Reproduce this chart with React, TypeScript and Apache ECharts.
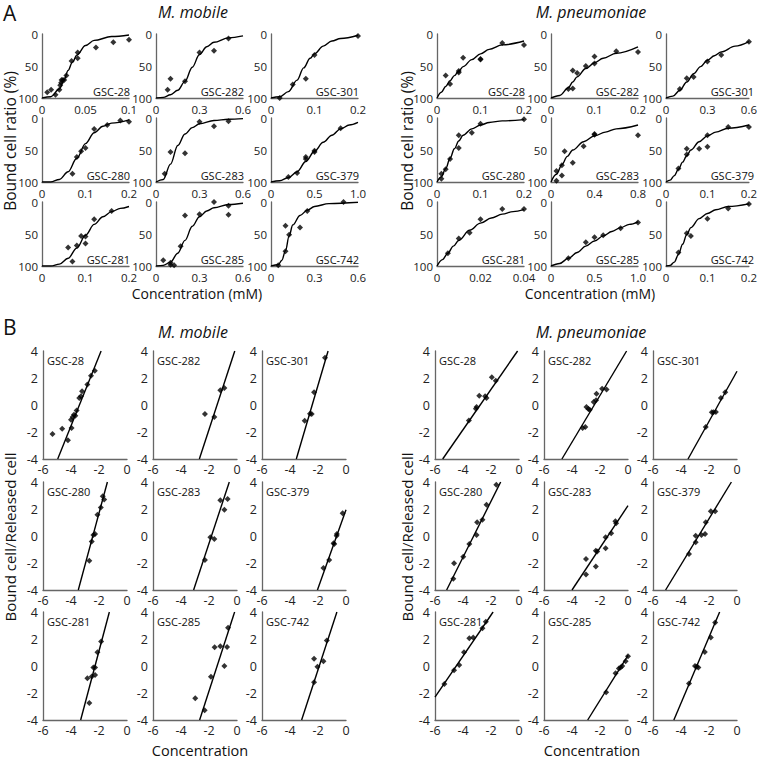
import React, { useEffect, useRef } from "react";
import * as echarts from "echarts";

const FONT = '"Open Sans", "Noto Sans", "DejaVu Sans", sans-serif';

// ---------- names ----------
const strains = ["GSC-28", "GSC-282", "GSC-301", "GSC-280", "GSC-283", "GSC-379", "GSC-281", "GSC-285", "GSC-742"];

// ---------- Panel A: x-axis ranges ----------
const aMobXMax = [0.1, 0.6, 0.2, 0.2, 0.6, 1.0, 0.2, 0.6, 0.6];
const aMobXStep = [0.05, 0.3, 0.1, 0.1, 0.3, 0.5, 0.1, 0.3, 0.3];
const aPnXMax = [0.2, 0.2, 0.6, 0.2, 0.8, 0.2, 0.04, 1.0, 0.2];
const aPnXStep = [0.1, 0.1, 0.3, 0.1, 0.4, 0.1, 0.02, 0.5, 0.1];

const aMob28Pts = [[0.006, 91], [0.0105, 87], [0.0155, 95], [0.02, 87], [0.021, 80], [0.022, 76], [0.0225, 72], [0.024, 72], [0.0255, 72], [0.028, 65], [0.034, 42], [0.041, 38], [0.041, 29], [0.062, 21], [0.082, 13], [0.1, 9]];
const aMob28Fit = [[0, 100], [0.01, 98], [0.02, 86], [0.025, 73], [0.03, 57], [0.035, 44], [0.04, 33], [0.05, 18], [0.06, 10], [0.08, 4], [0.1, 1.5]];
const aMob282Pts = [[0.08, 87], [0.1, 70], [0.2, 74], [0.3, 29], [0.4, 26], [0.5, 7]];
const aMob282Fit = [[0, 100], [0.05, 99], [0.1, 95], [0.15, 88], [0.2, 74], [0.25, 52], [0.3, 32], [0.35, 20], [0.4, 13], [0.5, 6], [0.6, 3]];
const aMob301Pts = [[0.02, 100], [0.05, 79], [0.08, 70], [0.1, 33], [0.2, 3]];
const aMob301Fit = [[0, 100], [0.02, 98], [0.04, 90], [0.06, 72], [0.075, 53], [0.09, 38], [0.1, 31], [0.12, 19], [0.14, 11], [0.16, 7], [0.2, 2]];
const aMob280Pts = [[0.07, 87], [0.08, 61], [0.09, 52], [0.1, 47], [0.12, 17], [0.15, 11], [0.18, 4], [0.2, 6]];
const aMob280Fit = [[0, 100], [0.02, 100], [0.04, 96], [0.06, 84], [0.08, 63], [0.1, 40], [0.12, 23], [0.14, 13], [0.16, 8], [0.2, 3]];
const aMob283Pts = [[0.06, 87], [0.1, 53], [0.2, 55], [0.3, 6], [0.4, 13], [0.5, 5]];
const aMob283Fit = [[0, 100], [0.05, 96], [0.1, 72], [0.15, 43], [0.2, 25], [0.25, 15], [0.3, 9], [0.4, 4], [0.5, 2], [0.6, 1]];
const aMob379Pts = [[0.2, 92], [0.3, 86], [0.4, 64], [0.4, 61], [0.5, 51], [0.5, 53], [0.8, 16]];
const aMob379Fit = [[0, 100], [0.1, 98], [0.2, 93], [0.3, 84], [0.4, 68], [0.5, 52], [0.6, 38], [0.7, 27], [0.8, 17], [0.9, 11], [1.0, 7]];
const aMob281Pts = [[0.06, 71], [0.07, 93], [0.08, 68], [0.09, 53], [0.1, 54], [0.1, 65], [0.12, 27], [0.16, 14]];
const aMob281Fit = [[0, 100], [0.02, 100], [0.04, 97], [0.06, 88], [0.08, 72], [0.1, 52], [0.12, 35], [0.14, 23], [0.16, 15], [0.18, 10], [0.2, 7]];
const aMob285Pts = [[0.05, 91], [0.1, 95], [0.1, 98], [0.125, 99], [0.17, 69], [0.2, 21], [0.3, 19], [0.4, 0], [0.5, 6], [0.5, 20]];
const aMob285Fit = [[0, 100], [0.05, 99], [0.1, 94], [0.15, 80], [0.2, 60], [0.25, 38], [0.3, 23], [0.35, 14], [0.4, 9], [0.5, 4], [0.6, 2]];
const aMob742Pts = [[0.05, 99], [0.1, 37], [0.1, 77], [0.125, 51], [0.2, 40], [0.25, 14], [0.5, 0]];
const aMob742Fit = [[0, 100], [0.05, 98], [0.075, 91], [0.1, 76], [0.125, 53], [0.15, 36], [0.2, 21], [0.25, 13], [0.3, 7], [0.4, 2.5], [0.6, 0.5]];

// ---------- Panel A, M. pneumoniae ----------
const aPn28Pts = [[0.02, 65], [0.03, 78], [0.05, 60], [0.05, 58], [0.06, 37], [0.1, 39], [0.1, 40], [0.15, 14], [0.2, 17]];
const aPn28Fit = [[0, 100], [0.01, 91], [0.02, 82], [0.03, 73], [0.04, 65], [0.05, 58], [0.06, 51], [0.08, 40], [0.1, 31], [0.12, 24], [0.15, 17], [0.2, 11]];
const aPn282Pts = [[0.04, 86], [0.05, 85], [0.05, 57], [0.06, 61], [0.08, 50], [0.1, 35], [0.1, 46], [0.15, 27], [0.2, 28]];
const aPn282Fit = [[0, 100], [0.02, 96], [0.04, 84], [0.05, 75], [0.06, 67], [0.08, 54], [0.1, 45], [0.12, 38], [0.15, 30], [0.2, 20]];
const aPn301Pts = [[0.1, 86], [0.15, 69], [0.2, 67], [0.3, 43], [0.4, 33], [0.6, 12]];
const aPn301Fit = [[0, 100], [0.05, 97], [0.1, 88], [0.15, 75], [0.2, 62], [0.25, 51], [0.3, 41], [0.35, 34], [0.4, 28], [0.5, 19], [0.6, 12]];
const aPn280Pts = [[0.01, 95], [0.01, 87], [0.02, 80], [0.03, 64], [0.05, 27], [0.05, 47], [0.08, 23], [0.1, 9], [0.2, 2]];
const aPn280Fit = [[0, 100], [0.01, 92], [0.02, 79], [0.03, 63], [0.04, 48], [0.05, 36], [0.06, 27], [0.08, 17], [0.1, 11], [0.12, 7], [0.15, 4.5], [0.2, 2.5]];
const aPn283Pts = [[0.05, 98], [0.05, 83], [0.1, 90], [0.1, 74], [0.125, 52], [0.2, 70], [0.3, 44], [0.4, 26], [0.4, 25], [0.8, 27]];
const aPn283Fit = [[0, 100], [0.05, 88], [0.1, 73], [0.15, 60], [0.2, 50], [0.3, 37], [0.4, 28], [0.5, 22], [0.6, 17], [0.8, 11]];
const aPn379Pts = [[0.03, 79], [0.05, 48], [0.05, 57], [0.08, 48], [0.1, 27], [0.1, 45], [0.15, 14], [0.2, 14]];
const aPn379Fit = [[0, 100], [0.01, 97], [0.02, 90], [0.03, 80], [0.04, 69], [0.05, 59], [0.06, 50], [0.08, 37], [0.1, 28], [0.12, 22], [0.15, 16], [0.2, 11]];
const aPn281Pts = [[0.005, 80], [0.01, 57], [0.015, 48], [0.02, 27], [0.03, 11], [0.04, 11]];
const aPn281Fit = [[0, 100], [0.0025, 90], [0.005, 80], [0.0075, 69], [0.01, 60], [0.015, 44], [0.02, 33], [0.025, 25], [0.03, 19], [0.035, 15], [0.04, 12]];
const aPn285Pts = [[0.2, 88], [0.4, 63], [0.5, 55], [0.6, 52], [0.8, 41], [1.0, 32]];
const aPn285Fit = [[0, 100], [0.1, 96], [0.2, 88], [0.3, 79], [0.4, 69], [0.5, 61], [0.6, 53], [0.7, 46], [0.8, 40], [0.9, 35], [1.0, 31]];
const aPn742Pts = [[0.03, 79], [0.05, 49], [0.06, 53], [0.1, 26], [0.15, 10], [0.2, 3]];
const aPn742Fit = [[0, 100], [0.01, 99], [0.02, 94], [0.03, 82], [0.04, 66], [0.05, 51], [0.06, 40], [0.08, 26], [0.1, 18], [0.12, 12], [0.15, 7], [0.2, 3]];

// ---------- Panel B, M. mobile: points and regression line end points ----------
const bMob28Pts = [[-5.32, -2.15], [-4.63, -1.75], [-4.22, -2.62], [-3.96, -1.7], [-4.0, -1.09], [-3.88, -0.89], [-3.79, -0.72], [-3.69, -0.79], [-3.6, -0.4], [-3.41, 0.52], [-3.29, 0.64], [-3.21, 1.01], [-2.83, 1.51], [-2.57, 2.17], [-2.3, 2.54]];
const bMob28Line = [[-4.95, -4], [-1.85, 4]];
const bMob282Pts = [[-2.29, -0.67], [-1.62, -0.89], [-1.19, 1.09], [-0.9, 1.26]];
const bMob282Line = [[-2.69, -4], [-0.16, 4]];
const bMob301Pts = [[-2.95, -1.16], [-2.57, -0.64], [-2.45, -0.67], [-2.28, 0.94], [-1.5, 3.5]];
const bMob301Line = [[-3.55, -4], [-1.28, 4]];
const bMob280Pts = [[-2.69, -1.83], [-2.52, -0.4], [-2.4, 0.07], [-2.28, 0.15], [-2.11, 1.58], [-1.87, 2.12], [-1.73, 2.95], [-1.63, 2.7]];
const bMob280Line = [[-3.48, -4], [-1.4, 4]];
const bMob283Pts = [[-2.29, -1.78], [-1.9, -0.1], [-1.62, -0.22], [-0.9, 1.95], [-1.19, 2.65], [-0.67, 2.75]];
const bMob283Line = [[-3.1, -4], [-0.55, 4]];
const bMob379Pts = [[-1.61, -2.37], [-1.2, -1.78], [-0.89, -0.54], [-0.84, -0.59], [-0.67, 0.02], [-0.65, 0.15], [-0.24, 1.68]];
const bMob379Line = [[-2.04, -4], [0, 1.95]];
const bMob281Pts = [[-2.83, -0.9], [-2.52, -0.78], [-2.4, -0.12], [-2.28, -0.12], [-2.28, -0.66], [-2.69, -2.74], [-2.11, 1.02], [-1.85, 1.82]];
const bMob281Line = [[-3.31, -4], [-1.26, 4]];
const bMob285Pts = [[-2.98, -2.38], [-2.31, -3.28], [-1.86, -0.8], [-1.6, 1.38], [-1.19, 1.46], [-0.71, 1.41], [-0.9, 0.0], [-0.64, 2.84]];
const bMob285Line = [[-2.67, -4], [-0.17, 4]];
const bMob742Pts = [[-2.28, 0.53], [-2.04, -0.05], [-2.28, -1.21], [-1.61, 0.36], [-1.37, 1.89]];
const bMob742Line = [[-3.17, -4], [-0.65, 4]];

// ---------- Panel B, M. pneumoniae ----------
const bPn28Pts = [[-3.58, -1.14], [-3.08, -0.27], [-3.03, -0.15], [-2.84, 0.69], [-2.42, 0.64], [-2.32, 0.52], [-1.94, 2.05], [-1.66, 1.8]];
const bPn28Line = [[-5.45, -4], [-0.1, 4]];
const bPn282Pts = [[-3.24, -1.7], [-3.05, -1.63], [-2.97, -0.15], [-2.83, -0.3], [-2.73, -0.35], [-2.45, 0.22], [-2.28, 0.35], [-2.25, 0.84], [-1.85, 1.21], [-1.53, 1.14]];
const bPn282Line = [[-4.72, -4], [-0.1, 4]];
const bPn301Pts = [[-2.23, -1.63], [-1.8, -0.54], [-1.68, -0.54], [-1.51, -0.52], [-1.15, 0.52], [-0.84, 0.94]];
const bPn301Line = [[-3.5, -4], [0, 2.5]];
const bPn280Pts = [[-4.69, -3.16], [-4.64, -2.02], [-3.98, -1.53], [-3.55, -0.59], [-3.03, 0.07], [-2.99, 1.01], [-2.61, 1.21], [-2.32, 2.32], [-1.62, 3.8]];
const bPn280Line = [[-5.17, -4], [-1.31, 4]];
const bPn283Pts = [[-3.0, -1.7], [-3.0, -2.86], [-2.3, -1.1], [-2.2, -1.15], [-2.3, -2.25], [-1.6, -0.1], [-1.6, -0.9], [-1.2, 0.2], [-0.9, 1.1], [-0.85, 0.95]];
const bPn283Line = [[-4.0, -4], [0, 2.25]];
const bPn379Pts = [[-3.43, -1.33], [-2.95, 0.02], [-2.95, -0.47], [-2.54, 0.07], [-2.28, 0.15], [-2.23, 1.01], [-1.87, 1.83], [-1.56, 1.83]];
const bPn379Line = [[-5.1, -4], [-0.4, 4]];
const bPn281Pts = [[-5.33, -1.33], [-4.64, -0.32], [-4.27, 0.07], [-3.93, 1.02], [-3.55, 2.06], [-3.27, 2.11], [-2.61, 2.79], [-2.37, 3.28]];
const bPn281Line = [[-6, -2.31], [-1.85, 4]];
const bPn285Pts = [[-1.56, -1.94], [-0.89, -0.53], [-0.65, -0.19], [-0.53, -0.12], [-0.41, 0.0], [-0.17, 0.36], [0, 0.73]];
const bPn285Line = [[-2.88, -4], [0, 0.78]];
const bPn742Pts = [[-3.43, -1.29], [-3.0, 0.0], [-2.88, -0.05], [-2.76, -0.12], [-2.3, 1.04], [-1.87, 2.11], [-1.56, 3.23]];
const bPn742Line = [[-4.51, -4], [-1.24, 4]];

const aMobPts = [aMob28Pts, aMob282Pts, aMob301Pts, aMob280Pts, aMob283Pts, aMob379Pts, aMob281Pts, aMob285Pts, aMob742Pts];
const aMobFit = [aMob28Fit, aMob282Fit, aMob301Fit, aMob280Fit, aMob283Fit, aMob379Fit, aMob281Fit, aMob285Fit, aMob742Fit];
const aPnPts = [aPn28Pts, aPn282Pts, aPn301Pts, aPn280Pts, aPn283Pts, aPn379Pts, aPn281Pts, aPn285Pts, aPn742Pts];
const aPnFit = [aPn28Fit, aPn282Fit, aPn301Fit, aPn280Fit, aPn283Fit, aPn379Fit, aPn281Fit, aPn285Fit, aPn742Fit];
const bMobPts = [bMob28Pts, bMob282Pts, bMob301Pts, bMob280Pts, bMob283Pts, bMob379Pts, bMob281Pts, bMob285Pts, bMob742Pts];
const bMobLine = [bMob28Line, bMob282Line, bMob301Line, bMob280Line, bMob283Line, bMob379Line, bMob281Line, bMob285Line, bMob742Line];
const bPnPts = [bPn28Pts, bPn282Pts, bPn301Pts, bPn280Pts, bPn283Pts, bPn379Pts, bPn281Pts, bPn285Pts, bPn742Pts];
const bPnLine = [bPn28Line, bPn282Line, bPn301Line, bPn280Line, bPn283Line, bPn379Line, bPn281Line, bPn285Line, bPn742Line];

// ---------- layout ----------
const A_COL_L = [42, 156, 271];
const A_COL_R = [437, 551, 666];
const A_ROW = [34, 118, 202];
const A_W = 87;
const A_H = 64;
const B_COL_L = [43, 153, 262];
const B_COL_R = [435, 544, 653];
const B_ROW = [351, 482, 612];
const B_W = 84;
const B_H = 108;

function fmtA(v: number) {
  if (v === 0) return "0";
  if (Math.abs(v - 1) < 1e-9) return "1.0";
  return String(parseFloat(v.toFixed(4)));
}

function txt(x: number, y: number, text: string, size: number, o: any = {}) {
  return {
    type: "text",
    x,
    y,
    rotation: o.rot || 0,
    silent: true,
    style: {
      text,
      x: 0,
      y: 0,
      fontSize: size,
      fontFamily: FONT,
      fontStyle: o.italic ? "italic" : "normal",
      fill: "#111",
      align: o.align || "center",
      textAlign: o.align || "center",
      verticalAlign: "middle",
      textVerticalAlign: "middle",
    },
  };
}

function buildOption() {
  const grid: any[] = [];
  const xAxis: any[] = [];
  const yAxis: any[] = [];
  const series: any[] = [];
  const graphic: any[] = [];
  const axisLine = { show: true, onZero: false, lineStyle: { color: "#666", width: 1.3 } };
  let idx = 0;

  const addA = (left: number, top: number, xmax: number, step: number, pts: number[][], fit: number[][], name: string) => {
    grid.push({ left, top, width: A_W, height: A_H });
    xAxis.push({
      type: "value", gridIndex: idx, min: 0, max: xmax, interval: step,
      axisLine, axisTick: { show: false }, splitLine: { show: false },
      axisLabel: { fontSize: 11.5, color: "#222", fontFamily: FONT, margin: 5, formatter: fmtA },
    });
    yAxis.push({
      type: "value", gridIndex: idx, min: 0, max: 100, interval: 50, inverse: true,
      axisLine, axisTick: { show: false }, splitLine: { show: false },
      axisLabel: { fontSize: 11.5, color: "#222", fontFamily: FONT, margin: 4 },
    });
    series.push({
      type: "line", xAxisIndex: idx, yAxisIndex: idx, data: fit, smooth: 0.35, smoothMonotone: "x",
      symbol: "none", silent: true, lineStyle: { color: "#000", width: 1.4 },
    });
    series.push({
      type: "scatter", xAxisIndex: idx, yAxisIndex: idx, data: pts, symbol: "diamond", symbolSize: 6,
      itemStyle: { color: "#000" }, silent: true,
    });
    graphic.push(txt(left + A_W + 1, top + A_H - 7, name, 11, { align: "right" }));
    idx++;
  };

  const addB = (left: number, top: number, pts: number[][], line: number[][], name: string) => {
    grid.push({ left, top, width: B_W, height: B_H });
    xAxis.push({
      type: "value", gridIndex: idx, min: -6, max: 0, interval: 2,
      axisLine, axisTick: { show: false }, splitLine: { show: false },
      axisLabel: { fontSize: 12.5, color: "#222", fontFamily: FONT, margin: 4 },
    });
    yAxis.push({
      type: "value", gridIndex: idx, min: -4, max: 4, interval: 2,
      axisLine, axisTick: { show: false }, splitLine: { show: false },
      axisLabel: { fontSize: 12.5, color: "#222", fontFamily: FONT, margin: 5 },
    });
    series.push({
      type: "line", xAxisIndex: idx, yAxisIndex: idx, data: line, symbol: "none", silent: true,
      lineStyle: { color: "#000", width: 1.4 },
    });
    series.push({
      type: "scatter", xAxisIndex: idx, yAxisIndex: idx, data: pts, symbol: "diamond", symbolSize: 6,
      itemStyle: { color: "#000" }, silent: true,
    });
    graphic.push(txt(left + 4, top + 9, name, 11, { align: "left" }));
    idx++;
  };

  for (let i = 0; i < 9; i++) {
    const r = Math.floor(i / 3);
    const c = i % 3;
    addA(A_COL_L[c], A_ROW[r], aMobXMax[i], aMobXStep[i], aMobPts[i], aMobFit[i], strains[i]);
    addA(A_COL_R[c], A_ROW[r], aPnXMax[i], aPnXStep[i], aPnPts[i], aPnFit[i], strains[i]);
    addB(B_COL_L[c], B_ROW[r], bMobPts[i], bMobLine[i], strains[i]);
    addB(B_COL_R[c], B_ROW[r], bPnPts[i], bPnLine[i], strains[i]);
  }

  const rot = Math.PI / 2;
  graphic.push(txt(3, 13, "A", 21, { align: "left" }));
  graphic.push(txt(193, 12, "M. mobile", 16, { italic: true }));
  graphic.push(txt(591, 12, "M. pneumoniae", 16, { italic: true }));
  graphic.push(txt(10, 141, "Bound cell ratio (%)", 15.5, { rot }));
  graphic.push(txt(407, 141, "Bound cell ratio (%)", 15.5, { rot }));
  graphic.push(txt(197, 293, "Concentration (mM)", 14, {}));
  graphic.push(txt(590, 293, "Concentration (mM)", 14, {}));

  graphic.push(txt(3, 327, "B", 21, { align: "left" }));
  graphic.push(txt(193, 332, "M. mobile", 16, { italic: true }));
  graphic.push(txt(591, 332, "M. pneumoniae", 16, { italic: true }));
  graphic.push(txt(10, 537, "Bound cell/Released cell", 15, { rot }));
  graphic.push(txt(407, 537, "Bound cell/Released cell", 15, { rot }));
  graphic.push(txt(200, 750, "Concentration", 14.5, {}));
  graphic.push(txt(592, 750, "Concentration", 14.5, {}));

  return {
    animation: false,
    backgroundColor: "#fff",
    grid,
    xAxis,
    yAxis,
    series,
    graphic: { elements: graphic },
  };
}

export default function App() {
  const ref = useRef<HTMLDivElement>(null);
  useEffect(() => {
    if (!ref.current) return;
    const chart = echarts.init(ref.current, null, { renderer: "svg" });
    chart.setOption(buildOption() as any);
    return () => chart.dispose();
  }, []);
  return (
    <div
      ref={ref}
      style={{ position: "fixed", left: 0, top: 0, width: 760, height: 759, background: "#fff" }}
    />
  );
}
